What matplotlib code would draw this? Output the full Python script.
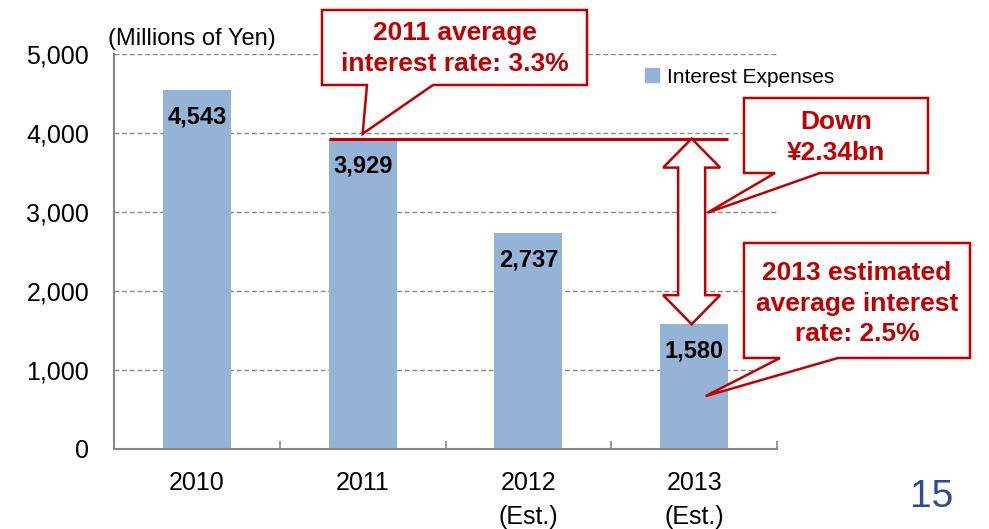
import matplotlib
matplotlib.use('Agg')
import matplotlib.pyplot as plt
from matplotlib.patches import Polygon, Patch

# Data
years = ['2010', '2011', '2012\n(Est.)', '2013\n(Est.)']
expenses = [4543, 3929, 2737, 1580]
yticks = [0, 1000, 2000, 3000, 4000, 5000]
rate_2011_level = 3929
rate_2013_level = 1580

RED = '#C00000'
BAR = '#95B3D7'
GRAY = '#888888'

plt.rcParams['font.family'] = ['Liberation Sans', 'DejaVu Sans']

W, H = 989, 529
fig = plt.figure(figsize=(W / 100, H / 100), dpi=100)
ax = fig.add_axes([114 / W, 1 - 449 / H, 663 / W, 395 / H])

x = list(range(len(years)))
bw = 0.41
ax.bar(x, expenses, width=bw, color=BAR, zorder=2)
for xi, v in zip(x, expenses):
    ax.annotate(f'{v:,}', (xi, v), xytext=(0, -19.5), textcoords='offset points',
                ha='center', va='center', fontsize=17, fontweight='bold', zorder=4)

ax.set_xlim(-0.5, len(years) - 0.5)
ax.set_ylim(0, 5000)
ax.set_yticks(yticks)
ax.set_yticklabels([f'{t:,}' for t in yticks], fontsize=18)
ax.set_xticks(x)
ax.set_xticklabels(years, fontsize=18, linespacing=1.5)
ax.set_xticks([i + 0.5 for i in x], minor=True)
ax.tick_params(axis='y', length=0, pad=18)
ax.tick_params(axis='x', which='major', length=0, pad=16)
ax.tick_params(axis='x', which='minor', direction='in', length=5.5, width=1.2, color=GRAY)
for lab in ax.get_xticklabels():
    lab.set_va('top')

ax.yaxis.grid(True, linestyle=(0, (3.5, 2)), color=GRAY, linewidth=1.0, zorder=0)
ax.set_axisbelow(True)
for s in ['top', 'right']:
    ax.spines[s].set_visible(False)
for s in ['left', 'bottom']:
    ax.spines[s].set_color(GRAY)
    ax.spines[s].set_linewidth(1.5)

# red reference line at 2011 level
ax.hlines(rate_2011_level, 1 - bw / 2, 3 + bw / 2, color=RED, linewidth=2.2, zorder=3)

fig.text(108 / W, 1 - 39 / H, '(Millions of Yen)', fontsize=17, ha='left', va='center')

ax.legend(handles=[Patch(color=BAR, label='Interest Expenses')], loc='center left',
          bbox_to_anchor=(645 / W, 1 - 77 / H), bbox_transform=fig.transFigure,
          frameon=False, fontsize=15, handlelength=0.65, handleheight=0.65,
          handletextpad=0.4, borderpad=0, borderaxespad=0)


def px2fig(px, py):
    return (px / W, 1 - py / H)


def data2px(dx, dy):
    tx, ty = ax.transData.transform((dx, dy))
    return tx, H - ty


def callout(box, base, tip, text, dy=0):
    x0, y0, x1, y1 = box
    tpx = data2px(*tip)
    verts = [(x0, y0), (x1, y0), (x1, y1), (base[1], y1), tpx, (base[0], y1), (x0, y1)]
    poly = Polygon([px2fig(*v) for v in verts], closed=True, transform=fig.transFigure,
                   facecolor='white', edgecolor=RED, linewidth=1.8, joinstyle='miter', zorder=5)
    fig.add_artist(poly)
    fig.text((x0 + x1) / 2 / W, 1 - ((y0 + y1) / 2 + dy) / H, text, ha='center', va='center',
             color=RED, fontsize=19, fontweight='bold', linespacing=1.32, zorder=6)


callout((322, 10, 587, 85), (367, 433), (1.0, 3990), '2011 average\ninterest rate: 3.3%', dy=1)
callout((744, 98, 928, 173), (775, 820), (3.08, 2990), 'Down\n¥2.34bn', dy=2)
callout((744, 243, 970, 358), (780, 838), (3.07, 670),
        '2013 estimated\naverage interest\nrate: 2.5%', dy=3)

# hollow double arrow between the two levels
cx, ytop = data2px(2.985, rate_2011_level)
_, ybot = data2px(2.985, rate_2013_level)
sw, hw, hl = 13.5, 28.5, 29
arrow = [(cx, ytop), (cx + hw, ytop + hl), (cx + sw, ytop + hl), (cx + sw, ybot - hl),
         (cx + hw, ybot - hl), (cx, ybot), (cx - hw, ybot - hl), (cx - sw, ybot - hl),
         (cx - sw, ytop + hl), (cx - hw, ytop + hl)]
fig.add_artist(Polygon([px2fig(*v) for v in arrow], closed=True, transform=fig.transFigure,
                       facecolor='white', edgecolor=RED, linewidth=1.8, joinstyle='miter', zorder=5))

# page number
fig.text(932 / W, 1 - 497 / H, '15', fontsize=28, color='#2B4A9E', ha='center', va='center')

fig.savefig('out.png', dpi=100)
